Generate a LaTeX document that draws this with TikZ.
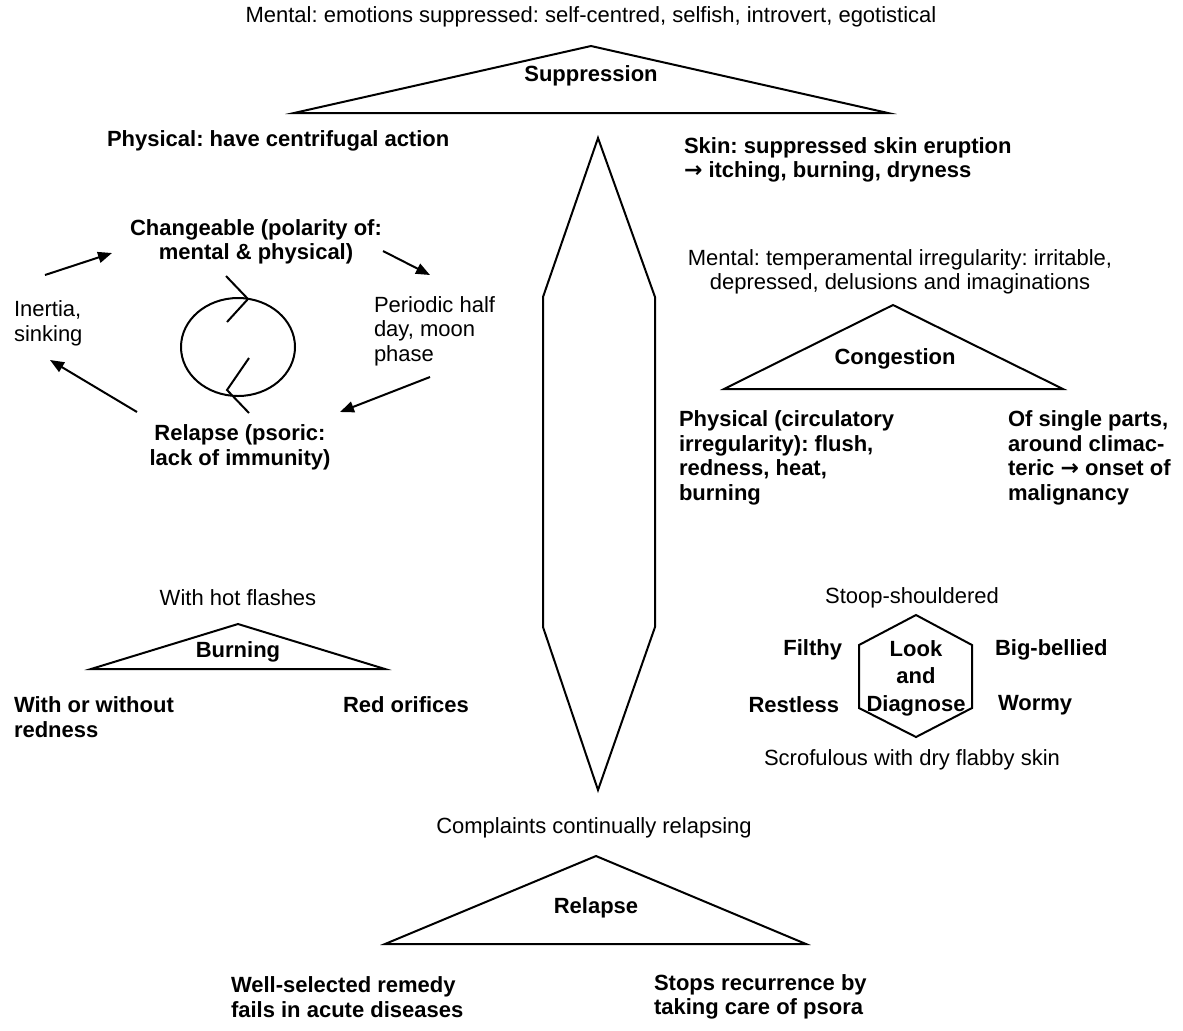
\documentclass[tikz,border=0pt]{standalone}
\usepackage{fontspec}
\setmainfont{Liberation Sans}
\newfontfamily\arrowfont{DejaVu Sans}
\newcommand{\toarrow}{{\arrowfont\bfseries →}}
\frenchspacing
\usetikzlibrary{arrows.meta}

\tikzset{
  txt/.style={font=\fontsize{11}{12.3}\selectfont, inner sep=0pt},
  bld/.style={font=\fontsize{11}{12.3}\selectfont\bfseries, inner sep=0pt},
  arr/.style={-{Triangle[length=7pt,width=5.5pt]}}
}

\begin{document}
\begin{tikzpicture}[x=0.5pt,y=-0.5pt,line width=1pt]
\useasboundingbox (0,0) rectangle (1183,1030);

% suppression
\node[txt] (supmental) at (591,17) {Mental: emotions suppressed: self-centred, selfish, introvert, egotistical};
\draw (294,113) -- (591,46) -- (888,113) -- cycle;
\node[bld] (sup) at (591,76) {Suppression};
\node[bld,anchor=west] (supphys) at (106,141) {Physical: have centrifugal action};
\node[bld,anchor=west,align=left] (supskin) at (683,160) {Skin: suppressed skin eruption\\ \toarrow{} itching, burning, dryness};

% the long lens in the middle
\draw (598,138) -- (655,297) -- (655,627) -- (598,790) -- (543,627) -- (543,297) -- cycle;

% cycle on the left
\node[bld,align=center] (change) at (256,242) {Changeable (polarity of:\\ mental \& physical)};
\node[txt,anchor=west,align=left] (inertia) at (13,323) {Inertia,\\ sinking};
\node[txt,anchor=west,align=left] (period) at (373,331) {Periodic half\\ day, moon\\ phase};
\node[bld,align=center] (relpso) at (240,447) {Relapse (psoric:\\ lack of immunity)};

\coordinate (a1) at (45,275);  \coordinate (b1) at (112,253);
\coordinate (a2) at (383,251); \coordinate (b2) at (430,275);
\coordinate (a3) at (430,377); \coordinate (b3) at (340,412);
\coordinate (a4) at (137,412); \coordinate (b4) at (50,360);
\draw[arr] (a1) -- (b1);
\draw[arr] (a2) -- (b2);
\draw[arr] (a3) -- (b3);
\draw[arr] (a4) -- (b4);

\draw (238,347) ellipse (57 and 49);
\draw (226,276) -- (248,299) -- (227,322);
\draw (249,358) -- (227,390) -- (249,413);

% congestion
\node[txt,align=center] (conmental) at (900,272) {Mental: temperamental irregularity: irritable,\\ depressed, delusions and imaginations};
\draw (724,389) -- (893,305) -- (1063,389) -- cycle;
\node[bld] (con) at (895,359) {Congestion};
\node[bld,anchor=west,align=left] (conphys) at (678,458) {Physical (circulatory\\ irregularity): flush,\\ redness, heat,\\ burning};
\node[bld,anchor=west,align=left] (conparts) at (1007,458) {Of single parts,\\ around climac-\\ teric \toarrow{} onset of\\ malignancy};

% burning
\node[txt] (burhot) at (238,598) {With hot flashes};
\draw (91,669) -- (238,624) -- (385,669) -- cycle;
\node[bld] (bur) at (238,652) {Burning};
\node[bld,anchor=west,align=left] (burred) at (13,717) {With or without\\ redness};
\node[bld,anchor=west] (burori) at (342,705) {Red orifices};

% look and diagnose
\draw (916,615) -- (972,645) -- (972,708) -- (916,737) -- (859,708) -- (859,645) -- cycle;
\node[bld,align=center] (look) at (916,678) {Look\\[1.5pt] and\\[1.5pt] Diagnose};
\node[txt] (stoop) at (912,598) {Stoop-shouldered};
\node[bld,anchor=east] (filthy) at (843,650) {Filthy};
\node[bld,anchor=west] (belly) at (994,650) {Big-bellied};
\node[bld,anchor=east] (restless) at (840,705) {Restless};
\node[bld,anchor=west] (wormy) at (997,705) {Wormy};
\node[txt] (scrof) at (912,760) {Scrofulous with dry flabby skin};

% relapse
\node[txt] (relcompl) at (594,828) {Complaints continually relapsing};
\draw (385,944) -- (596,856) -- (806,944) -- cycle;
\node[bld] (rel) at (596,908) {Relapse};
\node[bld,anchor=west,align=left] (relfail) at (230,997) {Well-selected remedy\\ fails in acute diseases};
\node[bld,anchor=west,align=left] (relstop) at (653,997) {Stops recurrence by\\ taking care of psora};

\end{tikzpicture}
\end{document}
